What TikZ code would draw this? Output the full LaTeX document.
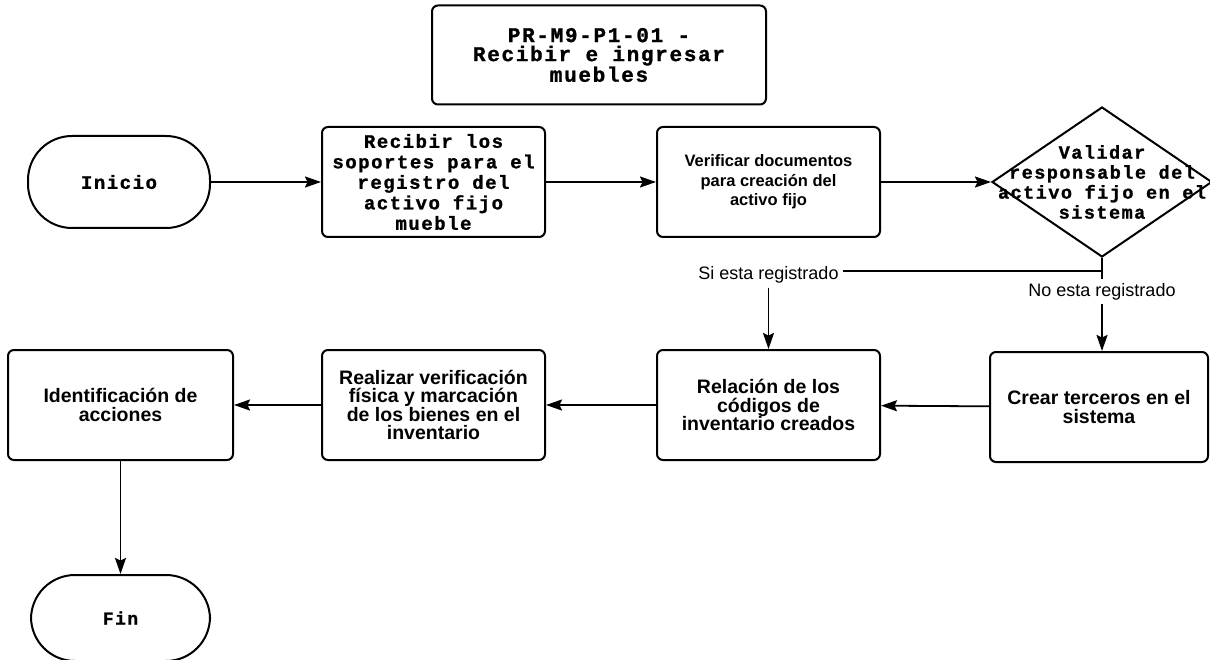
\documentclass[tikz,border=0pt]{standalone}
\usepackage{fontspec}
\newfontfamily\codefont[LetterSpace=8, BoldFeatures={FakeBold=1.2}]{Liberation Mono}
\newfontfamily\arialfont{Liberation Sans}
\usetikzlibrary{arrows.meta,positioning,shapes.geometric}
\tikzset{
    >={Stealth[length=16pt,width=11pt,inset=2.5pt]},
    caja/.style={
           rectangle, rounded corners=6pt,
           draw=black, line width=2pt,
           minimum width=223pt, minimum height=110pt,
           inner sep=2pt,
           align=center},
    terminal/.style={
           rectangle, rounded corners=44pt,
           draw=black, line width=2pt,
           minimum width=182pt, minimum height=92pt,
           font=\codefont\bfseries\fontsize{19}{20}\selectfont},
    decision/.style={
           diamond,
           draw=black, line width=2pt,
           minimum width=220pt, minimum height=150pt,
           inner sep=0pt},
    mono/.style={font=\codefont\bfseries\fontsize{19}{20.5}\selectfont},
    sans/.style={font=\arialfont\bfseries\fontsize{19.5}{18.5}\selectfont},
    etiqueta/.style={
           font=\arialfont\fontsize{18}{20}\selectfont,
           inner sep=4pt},
    linea/.style={line width=1.8pt},
    pil/.style={
           ->,
           line width=1.8pt}
}

\begin{document}
\begin{tikzpicture}[x=1pt, y=-1pt, node distance=110pt]
        \useasboundingbox (0,0) rectangle (1210,660);

        \node[caja, minimum width=334pt, minimum height=99pt,
              font=\codefont\bfseries\fontsize{21}{19}\selectfont] (titulo) at (599,55)
              {PR-M9-P1-01 -\\Recibir e ingresar\\muebles};

        \node[terminal] (inicio) at (119,182) {Inicio};
        \node[caja, mono, right=of inicio] (recibir)
              {Recibir los\\soportes para el\\registro del\\activo fijo\\mueble};
        \node[caja, right=of recibir,
              font=\arialfont\bfseries\fontsize{16.5}{19.5}\selectfont] (verificar)
              {Verificar documentos\\para creación del\\activo fijo};
        \node[decision, right=110pt of verificar] (validar) {};
        \node[align=center, font=\codefont\bfseries\fontsize{18.5}{20}\selectfont] (validartexto) at (validar)
              {Validar\\responsable del\\activo fijo en el\\sistema};

        \node[caja, sans, below=111pt of recibir] (realizar)
              {Realizar verificación\\física y marcación\\de los bienes en el\\inventario};
        \node[caja, sans, below=111pt of verificar] (relacion)
              {Relación de los\\códigos de\\inventario creados};
        \node[caja, sans, minimum width=218pt, below=93pt of validar, xshift=-3pt] (crear)
              {Crear terceros en el\\sistema};
        \node[caja, sans, minimum width=225pt, left=87pt of realizar] (identificacion)
              {Identificación de\\acciones};
        \node[terminal, minimum width=179pt, minimum height=86pt,
              font=\codefont\bfseries\fontsize{18}{20}\selectfont,
              below=113pt of identificacion] (fin) {Fin};

        \coordinate[below=13pt of validar.south] (cruce);
        \node[etiqueta, yshift=-4pt] (si) at (cruce -| verificar) {Si esta registrado};
        \node[etiqueta, below=8pt of cruce] (no) {No esta registrado};

        \draw[pil] (inicio) -- (recibir);
        \draw[pil] (recibir) -- (verificar);
        \draw[pil] (verificar) -- (validar);

        \draw[linea] (validar.south) -- (cruce) -- (cruce -| si.east);
        \draw[linea] (cruce) -- (no.north);
        \draw[pil] (si.south) -- (relacion.north);
        \draw[pil] (no.south) -- (no.south |- crear.north);

        \draw[pil] (crear) -- (relacion);
        \draw[pil] (relacion) -- (realizar);
        \draw[pil] (realizar) -- (identificacion);
        \draw[pil] (identificacion) -- (fin);
\end{tikzpicture}
\end{document}
